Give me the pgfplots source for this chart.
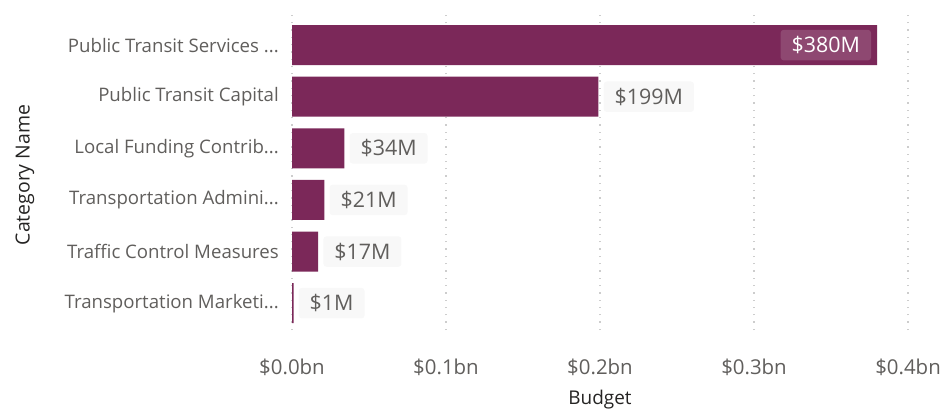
\documentclass[border=0pt]{standalone}
\usepackage{pgfplots}
\pgfplotsset{compat=1.18}
\usepackage{fontspec}
\setmainfont{Open Sans}
\definecolor{barcol}{RGB}{123,40,89}
\definecolor{tickgray}{RGB}{96,94,92}
\definecolor{titlegray}{RGB}{37,36,35}
\definecolor{labelbg}{RGB}{248,248,248}
\definecolor{gridgray}{RGB}{205,205,205}
\newcommand{\trunc}{.{}.{}.}

\begin{document}
\begin{tikzpicture}[x=1bp,y=1bp]
\path[use as bounding box] (0,0) rectangle (943,410);
\begin{axis}[
    at={(292bp,80bp)}, anchor=south west,
    scale only axis, width=616bp, height=320bp,
    xmin=0, xmax=0.4, ymin=-0.52, ymax=5.68,
    axis line style={draw=none},
    tick style={draw=none},
    xmajorgrids,
    major grid style={gridgray, line width=1.3bp, dash pattern=on 1.3bp off 6bp},
    xtick={0,0.1,0.2,0.3,0.4},
    xticklabels={\$0.0bn,\$0.1bn,\$0.2bn,\$0.3bn,\$0.4bn},
    xticklabel style={anchor=base, yshift=-44bp, text=tickgray,
        font=\fontsize{20.5}{24}\selectfont},
    ytick={0,1,2,3,4,5},
    yticklabels={{Transportation Marketi\trunc},{Traffic Control Measures},
        {Transportation Admini\trunc},{Local Funding Contrib\trunc},
        {Public Transit Capital},{Public Transit Services \trunc}},
    yticklabel style={anchor=east, inner sep=0pt, xshift=-13bp, text=tickgray,
        font=\fontsize{18.7}{22}\selectfont},
]
% bars (values in $bn)
\addplot[xbar, fill=barcol, draw=none, bar width=0.775] coordinates {
    (0.001,0) (0.017,1) (0.021,2) (0.034,3) (0.199,4) (0.380,5)
};
% labels outside the bars
\addplot[draw=none, mark=none, point meta=explicit symbolic,
    nodes near coords={\$\pgfplotspointmeta M},
    every node near coord/.append style={anchor=west, xshift=5bp,
        fill=labelbg, rounded corners=3bp, inner xsep=11bp, inner ysep=6.5bp,
        text=tickgray, font=\fontsize{21.5}{24}\selectfont}]
    coordinates {
    (0.001,0) [1] (0.017,1) [17] (0.021,2) [21] (0.034,3) [34] (0.199,4) [199]
};
% label inside the longest bar
\addplot[draw=none, mark=none, point meta=explicit symbolic,
    nodes near coords={\$\pgfplotspointmeta M},
    every node near coord/.append style={anchor=east, xshift=-6bp,
        fill=white, fill opacity=0.15, text opacity=1, rounded corners=3bp,
        inner xsep=11bp, inner ysep=6.5bp,
        text=white, font=\fontsize{21.5}{24}\selectfont}]
    coordinates {(0.380,5) [380]};
\end{axis}
\node[text=titlegray, font=\fontsize{19}{22}\selectfont] at (600,10) {Budget};
\node[text=titlegray, font=\fontsize{19.5}{22}\selectfont, rotate=90] at (25,235) {Category Name};
\end{tikzpicture}
\end{document}
